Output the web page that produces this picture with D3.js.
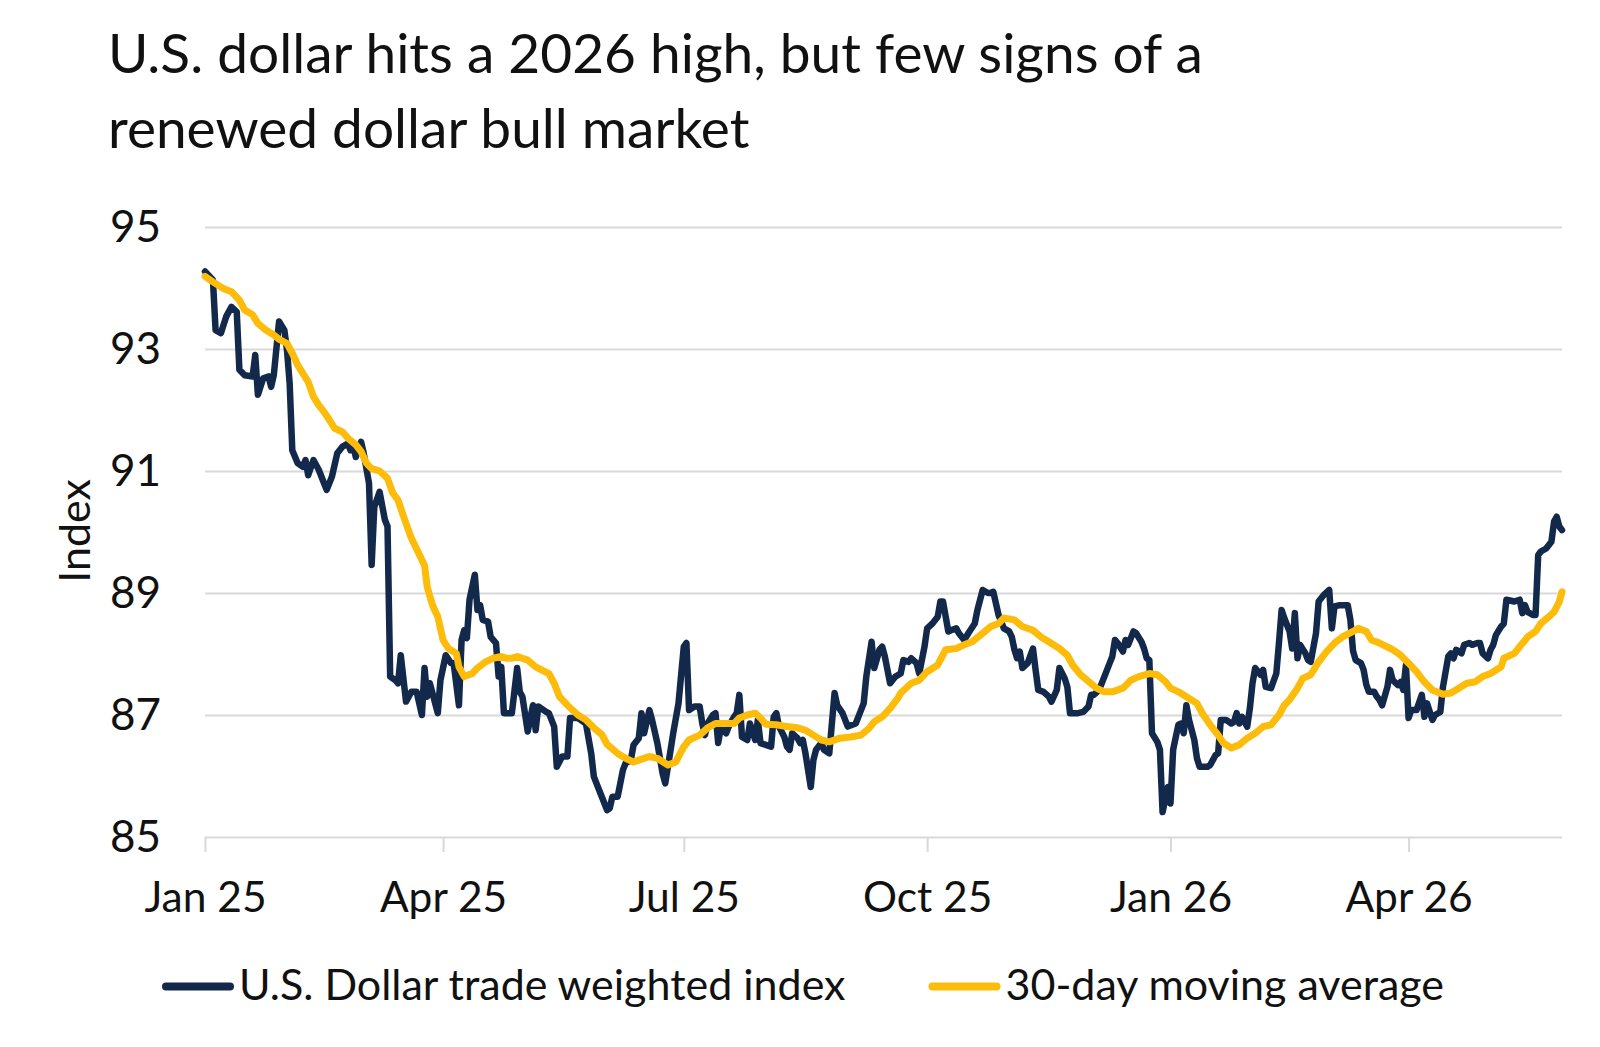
<!DOCTYPE html>
<html>
<head>
<meta charset="utf-8">
<script src="https://cdn.jsdelivr.net/npm/d3@7"></script>
<style>
  html, body { margin: 0; padding: 0; background: #ffffff; }
  svg { display: block; }
</style>
</head>
<body>
<svg id="chart" width="1600" height="1047"></svg>
<script>
// ---------------- DATA ----------------
const titleLines = ["U.S. dollar hits a 2026 high, but few signs of a", "renewed dollar bull market"];
const yAxisTitle = "Index";
const yTicks = [85, 87, 89, 91, 93, 95];
const xTickDates = ["2025-01-01", "2025-04-01", "2025-07-01", "2025-10-01", "2026-01-01", "2026-04-01"];
const xTickLabels = ["Jan 25", "Apr 25", "Jul 25", "Oct 25", "Jan 26", "Apr 26"];
const xDomain = ["2025-01-01", "2026-05-29"];
const seriesNames = ["U.S. Dollar trade weighted index", "30-day moving average"];
const seriesColors = ["#13294b", "#fdbb0a"];

// U.S. Dollar trade weighted index (date, value)
const dollarIndex = [
["2025-01-01",94.27],["2025-01-04",94.13],["2025-01-05",93.31],["2025-01-07",93.26],["2025-01-09",93.53],
["2025-01-11",93.69],["2025-01-13",93.61],["2025-01-14",92.66],["2025-01-16",92.57],["2025-01-19",92.55],
["2025-01-20",92.90],["2025-01-21",92.25],["2025-01-23",92.52],["2025-01-25",92.55],["2025-01-26",92.38],
["2025-01-27",92.57],["2025-01-29",93.45],["2025-01-31",93.31],["2025-02-01",92.98],["2025-02-02",92.44],
["2025-02-03",91.34],["2025-02-05",91.13],["2025-02-07",91.07],["2025-02-08",91.18],["2025-02-09",90.93],
["2025-02-11",91.18],["2025-02-13",91.02],["2025-02-15",90.80],["2025-02-16",90.69],["2025-02-18",90.91],
["2025-02-20",91.29],["2025-02-22",91.40],["2025-02-24",91.45],["2025-02-25",91.34],["2025-02-26",91.43],
["2025-02-27",91.23],["2025-03-01",91.48],["2025-03-02",91.29],["2025-03-04",90.80],["2025-03-05",89.46],
["2025-03-06",90.41],["2025-03-08",90.66],["2025-03-10",90.20],["2025-03-11",90.09],["2025-03-12",87.63],
["2025-03-14",87.57],["2025-03-15",87.52],["2025-03-16",87.98],["2025-03-18",87.22],["2025-03-20",87.38],
["2025-03-22",87.38],["2025-03-24",87.00],["2025-03-25",87.77],["2025-03-26",87.30],["2025-03-27",87.52],
["2025-03-30",87.03],["2025-03-31",87.57],["2025-04-02",87.98],["2025-04-04",87.85],["2025-04-05",87.85],
["2025-04-07",87.16],["2025-04-08",88.23],["2025-04-09",88.39],["2025-04-10",88.26],["2025-04-11",88.89],
["2025-04-13",89.30],["2025-04-14",88.72],["2025-04-15",88.80],["2025-04-16",88.56],["2025-04-18",88.53],
["2025-04-19",88.28],["2025-04-21",88.18],["2025-04-22",87.63],["2025-04-23",87.79],["2025-04-24",87.03],
["2025-04-26",87.03],["2025-04-27",87.03],["2025-04-29",87.77],["2025-04-30",87.38],["2025-05-01",87.30],
["2025-05-03",86.73],["2025-05-05",87.16],["2025-05-06",86.75],["2025-05-07",87.14],["2025-05-10",87.05],
["2025-05-11",87.03],["2025-05-13",86.81],["2025-05-14",86.15],["2025-05-16",86.32],["2025-05-18",86.32],
["2025-05-19",86.95],["2025-05-22",86.95],["2025-05-25",86.86],["2025-05-27",86.37],["2025-05-28",85.99],
["2025-05-29",85.88],["2025-05-31",85.66],["2025-06-02",85.44],["2025-06-03",85.47],["2025-06-04",85.66],
["2025-06-06",85.66],["2025-06-08",86.10],["2025-06-09",86.21],["2025-06-11",86.26],["2025-06-12",86.51],
["2025-06-14",86.62],["2025-06-15",87.03],["2025-06-16",86.70],["2025-06-18",87.08],["2025-06-19",86.92],
["2025-06-21",86.54],["2025-06-23",86.04],["2025-06-24",85.88],["2025-06-25",86.15],["2025-06-27",86.70],
["2025-06-29",87.19],["2025-07-01",88.12],["2025-07-02",88.18],["2025-07-03",87.08],["2025-07-05",87.14],
["2025-07-07",87.14],["2025-07-08",86.86],["2025-07-09",86.67],["2025-07-10",86.86],["2025-07-12",87.00],
["2025-07-13",87.03],["2025-07-14",86.54],["2025-07-15",86.79],["2025-07-17",86.70],["2025-07-18",86.81],
["2025-07-20",86.97],["2025-07-21",87.03],["2025-07-22",87.33],["2025-07-23",86.64],["2025-07-25",86.59],
["2025-07-26",86.86],["2025-07-28",86.59],["2025-07-29",86.92],["2025-07-30",86.54],["2025-08-01",86.51],
["2025-08-03",86.48],["2025-08-04",86.97],["2025-08-05",87.03],["2025-08-06",86.81],["2025-08-08",86.64],
["2025-08-09",86.48],["2025-08-10",86.43],["2025-08-11",86.70],["2025-08-13",86.62],["2025-08-14",86.54],
["2025-08-15",86.59],["2025-08-16",86.37],["2025-08-18",85.82],["2025-08-19",86.26],["2025-08-20",86.43],
["2025-08-22",86.54],["2025-08-23",86.43],["2025-08-25",86.37],["2025-08-27",87.36],["2025-08-28",87.16],
["2025-08-30",87.03],["2025-09-01",86.81],["2025-09-04",86.86],["2025-09-05",86.97],["2025-09-07",87.19],
["2025-09-08",87.63],["2025-09-10",88.20],["2025-09-11",87.77],["2025-09-13",88.07],["2025-09-14",88.12],
["2025-09-15",87.96],["2025-09-17",87.52],["2025-09-19",87.63],["2025-09-21",87.68],["2025-09-22",87.90],
["2025-09-24",87.87],["2025-09-25",87.93],["2025-09-27",87.85],["2025-09-28",87.68],["2025-09-30",88.12],
["2025-10-01",88.42],["2025-10-03",88.50],["2025-10-05",88.61],["2025-10-06",88.86],["2025-10-07",88.86],
["2025-10-09",88.37],["2025-10-10",88.39],["2025-10-12",88.42],["2025-10-13",88.34],["2025-10-15",88.23],
["2025-10-17",88.37],["2025-10-19",88.50],["2025-10-20",88.72],["2025-10-22",89.05],["2025-10-24",89.00],
["2025-10-25",89.00],["2025-10-26",89.02],["2025-10-28",88.64],["2025-10-30",88.42],["2025-11-01",88.37],
["2025-11-02",88.28],["2025-11-03",88.07],["2025-11-04",87.93],["2025-11-05",88.04],["2025-11-06",87.77],
["2025-11-08",87.85],["2025-11-10",88.09],["2025-11-11",87.74],["2025-11-12",87.41],["2025-11-14",87.38],
["2025-11-16",87.30],["2025-11-17",87.22],["2025-11-19",87.41],["2025-11-20",87.77],["2025-11-22",87.60],
["2025-11-23",87.46],["2025-11-24",87.03],["2025-11-27",87.03],["2025-11-29",87.05],["2025-12-01",87.14],
["2025-12-02",87.33],["2025-12-03",87.33],["2025-12-05",87.41],["2025-12-07",87.63],["2025-12-09",87.85],
["2025-12-10",87.96],["2025-12-11",88.23],["2025-12-12",88.18],["2025-12-14",88.04],["2025-12-15",88.23],
["2025-12-16",88.15],["2025-12-18",88.37],["2025-12-19",88.34],["2025-12-21",88.20],["2025-12-22",88.09],
["2025-12-23",87.93],["2025-12-24",87.90],["2025-12-25",86.70],["2025-12-27",86.56],["2025-12-28",86.43],
["2025-12-29",85.41],["2025-12-31",85.82],["2026-01-01",85.55],["2026-01-02",86.43],["2026-01-03",86.64],
["2026-01-04",86.84],["2026-01-05",86.86],["2026-01-06",86.70],["2026-01-07",87.16],["2026-01-08",86.92],
["2026-01-10",86.59],["2026-01-11",86.29],["2026-01-12",86.15],["2026-01-15",86.15],["2026-01-16",86.18],
["2026-01-17",86.26],["2026-01-18",86.34],["2026-01-19",86.37],["2026-01-20",86.92],["2026-01-22",86.92],
["2026-01-24",86.86],["2026-01-25",86.89],["2026-01-26",87.03],["2026-01-27",86.86],["2026-01-28",86.97],
["2026-01-30",86.81],["2026-01-31",87.11],["2026-02-01",87.52],["2026-02-02",87.77],["2026-02-04",87.66],
["2026-02-05",87.74],["2026-02-06",87.46],["2026-02-08",87.44],["2026-02-10",87.68],["2026-02-11",88.18],
["2026-02-12",88.72],["2026-02-13",88.59],["2026-02-15",88.37],["2026-02-16",88.09],["2026-02-17",88.67],
["2026-02-18",87.93],["2026-02-19",88.15],["2026-02-21",88.01],["2026-02-22",87.90],["2026-02-23",87.87],
["2026-02-25",88.34],["2026-02-26",88.86],["2026-02-28",88.97],["2026-03-02",89.05],["2026-03-03",88.42],
["2026-03-04",88.78],["2026-03-06",88.80],["2026-03-09",88.80],["2026-03-10",88.56],["2026-03-11",88.05],
["2026-03-12",87.90],["2026-03-14",87.85],["2026-03-15",87.74],["2026-03-16",87.50],["2026-03-17",87.38],
["2026-03-19",87.38],["2026-03-20",87.30],["2026-03-21",87.25],["2026-03-22",87.16],["2026-03-24",87.46],
["2026-03-25",87.74],["2026-03-26",87.57],["2026-03-28",87.49],["2026-03-29",87.54],["2026-03-30",87.41],
["2026-03-31",87.82],["2026-04-01",86.95],["2026-04-02",87.08],["2026-04-04",87.08],["2026-04-06",87.33],
["2026-04-07",86.97],["2026-04-08",87.19],["2026-04-10",86.92],["2026-04-11",87.00],["2026-04-13",87.05],
["2026-04-14",87.46],["2026-04-16",87.96],["2026-04-17",88.01],["2026-04-18",87.93],["2026-04-19",88.07],
["2026-04-21",88.01],["2026-04-22",88.15],["2026-04-24",88.18],["2026-04-25",88.15],["2026-04-27",88.18],
["2026-04-28",88.18],["2026-04-29",88.01],["2026-05-01",87.93],["2026-05-02",88.07],["2026-05-03",88.15],
["2026-05-04",88.31],["2026-05-06",88.45],["2026-05-07",88.50],["2026-05-08",88.89],["2026-05-11",88.86],
["2026-05-13",88.89],["2026-05-14",88.67],["2026-05-15",88.80],["2026-05-16",88.69],["2026-05-18",88.64],
["2026-05-19",88.64],["2026-05-20",89.62],["2026-05-21",89.68],["2026-05-23",89.73],["2026-05-25",89.84],
["2026-05-26",90.17],["2026-05-27",90.25],["2026-05-28",90.09],["2026-05-29",90.03]
];

// 30-day moving average (date, value)
const movingAverage = [
["2025-01-01",94.19],["2025-01-04",94.10],["2025-01-08",93.99],["2025-01-11",93.94],["2025-01-14",93.80],
["2025-01-16",93.64],["2025-01-19",93.56],["2025-01-21",93.42],["2025-01-24",93.31],["2025-01-27",93.23],
["2025-01-29",93.16],["2025-02-01",93.09],["2025-02-03",92.93],["2025-02-05",92.74],["2025-02-07",92.60],
["2025-02-09",92.46],["2025-02-11",92.22],["2025-02-13",92.08],["2025-02-15",91.97],["2025-02-17",91.84],
["2025-02-19",91.70],["2025-02-22",91.64],["2025-02-24",91.54],["2025-02-27",91.43],["2025-03-01",91.32],
["2025-03-03",91.13],["2025-03-05",91.04],["2025-03-08",91.00],["2025-03-11",90.88],["2025-03-13",90.64],
["2025-03-15",90.52],["2025-03-17",90.26],["2025-03-20",89.90],["2025-03-22",89.72],["2025-03-25",89.45],
["2025-03-26",89.10],["2025-03-28",88.80],["2025-03-30",88.61],["2025-04-01",88.23],["2025-04-03",88.09],
["2025-04-06",88.01],["2025-04-07",87.79],["2025-04-09",87.63],["2025-04-12",87.68],["2025-04-14",87.77],
["2025-04-17",87.87],["2025-04-20",87.93],["2025-04-23",87.96],["2025-04-25",87.93],["2025-04-27",87.93],
["2025-04-29",87.96],["2025-05-03",87.90],["2025-05-06",87.79],["2025-05-11",87.68],["2025-05-13",87.52],
["2025-05-15",87.30],["2025-05-18",87.16],["2025-05-22",87.00],["2025-05-25",86.92],["2025-05-28",86.79],
["2025-05-31",86.68],["2025-06-02",86.52],["2025-06-06",86.37],["2025-06-09",86.29],["2025-06-12",86.23],
["2025-06-14",86.26],["2025-06-18",86.32],["2025-06-21",86.29],["2025-06-25",86.18],["2025-06-28",86.23],
["2025-07-01",86.48],["2025-07-03",86.59],["2025-07-07",86.67],["2025-07-10",86.79],["2025-07-13",86.86],
["2025-07-17",86.86],["2025-07-20",86.86],["2025-07-22",86.95],["2025-07-25",87.00],["2025-07-28",87.03],
["2025-07-30",86.95],["2025-08-01",86.85],["2025-08-05",86.84],["2025-08-09",86.81],["2025-08-13",86.79],
["2025-08-16",86.75],["2025-08-19",86.67],["2025-08-22",86.59],["2025-08-25",86.56],["2025-08-29",86.62],
["2025-09-02",86.64],["2025-09-06",86.67],["2025-09-09",86.78],["2025-09-11",86.89],["2025-09-14",86.97],
["2025-09-17",87.11],["2025-09-20",87.28],["2025-09-21",87.36],["2025-09-25",87.52],["2025-09-28",87.57],
["2025-10-01",87.71],["2025-10-05",87.82],["2025-10-08",88.07],["2025-10-12",88.09],["2025-10-15",88.15],
["2025-10-18",88.20],["2025-10-22",88.34],["2025-10-25",88.45],["2025-10-28",88.50],["2025-10-30",88.59],
["2025-11-03",88.56],["2025-11-06",88.45],["2025-11-10",88.39],["2025-11-13",88.28],["2025-11-16",88.20],
["2025-11-20",88.09],["2025-11-23",87.98],["2025-11-25",87.82],["2025-11-28",87.66],["2025-12-01",87.55],
["2025-12-04",87.44],["2025-12-07",87.38],["2025-12-10",87.38],["2025-12-14",87.44],["2025-12-17",87.57],
["2025-12-20",87.63],["2025-12-24",87.68],["2025-12-27",87.66],["2025-12-30",87.55],["2026-01-01",87.44],
["2026-01-04",87.38],["2026-01-07",87.30],["2026-01-11",87.19],["2026-01-13",87.03],["2026-01-16",86.84],
["2026-01-19",86.67],["2026-01-21",86.54],["2026-01-24",86.46],["2026-01-27",86.51],["2026-01-30",86.62],
["2026-02-02",86.70],["2026-02-05",86.81],["2026-02-08",86.84],["2026-02-11",87.00],["2026-02-13",87.16],
["2026-02-15",87.25],["2026-02-18",87.44],["2026-02-20",87.60],["2026-02-23",87.66],["2026-02-26",87.87],
["2026-03-01",88.04],["2026-03-04",88.18],["2026-03-07",88.28],["2026-03-11",88.37],["2026-03-13",88.42],
["2026-03-16",88.37],["2026-03-18",88.23],["2026-03-21",88.18],["2026-03-26",88.07],["2026-03-29",87.98],
["2026-04-01",87.85],["2026-04-04",87.71],["2026-04-07",87.54],["2026-04-10",87.41],["2026-04-14",87.34],
["2026-04-17",87.36],["2026-04-20",87.44],["2026-04-23",87.52],["2026-04-26",87.54],["2026-04-29",87.63],
["2026-05-02",87.68],["2026-05-06",87.79],["2026-05-07",87.93],["2026-05-11",88.01],["2026-05-13",88.12],
["2026-05-16",88.28],["2026-05-19",88.37],["2026-05-21",88.50],["2026-05-24",88.61],["2026-05-26",88.69],
["2026-05-28",88.86],["2026-05-29",89.02]
];

// ---------------- CHART ----------------
const FONT = "Lato, 'Noto Sans', sans-serif";
const parse = d3.utcParse("%Y-%m-%d");
const svg = d3.select("#chart");
svg.append("rect").attr("width", 1600).attr("height", 1047).attr("fill", "#ffffff");

const plot = { left: 205, right: 1562, top: 227, bottom: 837 };

const x = d3.scaleUtc().domain(xDomain.map(parse)).range([plot.left, plot.right]);
const y = d3.scaleLinear().domain([85, 95]).range([plot.bottom, plot.top]);

// Title
const title = svg.append("g").attr("font-family", FONT).attr("font-size", 55).attr("fill", "#111111");
titleLines.forEach((t, i) => {
  title.append("text").attr("x", 108).attr("y", 73 + i * 75).text(t);
});

// Y axis with gridlines
const yAxis = d3.axisLeft(y).tickValues(yTicks).tickFormat(d3.format("d"))
  .tickSize(-(plot.right - plot.left)).tickPadding(44);
const gy = svg.append("g").attr("transform", `translate(${plot.left},0)`).call(yAxis);
gy.select(".domain").remove();
gy.selectAll(".tick line").attr("stroke", "#d9d9d9").attr("stroke-width", 2);
gy.selectAll(".tick text").attr("font-family", FONT).attr("font-size", 44).attr("fill", "#111111");

// X axis
const xAxis = d3.axisBottom(x).tickValues(xTickDates.map(parse))
  .tickFormat((d, i) => xTickLabels[i]).tickSize(15).tickPadding(30);
const gx = svg.append("g").attr("transform", `translate(0,${plot.bottom})`).call(xAxis);
gx.select(".domain").remove();
gx.selectAll(".tick line").attr("stroke", "#d9d9d9").attr("stroke-width", 2);
gx.selectAll(".tick text").attr("font-family", FONT).attr("font-size", 42.5).attr("fill", "#111111");

// Y axis title
svg.append("text")
  .attr("transform", `translate(90,531) rotate(-90)`)
  .attr("text-anchor", "middle")
  .attr("font-family", FONT).attr("font-size", 43).attr("fill", "#111111")
  .text(yAxisTitle);

// Lines
const line = d3.line().x(d => x(parse(d[0]))).y(d => y(d[1])).curve(d3.curveLinear);
svg.append("path").datum(dollarIndex)
  .attr("fill", "none").attr("stroke", seriesColors[0]).attr("stroke-width", 6.5)
  .attr("stroke-linejoin", "round").attr("stroke-linecap", "round").attr("d", line);
svg.append("path").datum(movingAverage)
  .attr("fill", "none").attr("stroke", seriesColors[1]).attr("stroke-width", 7)
  .attr("stroke-linejoin", "round").attr("stroke-linecap", "round").attr("d", line);

// Legend
const legend = svg.append("g").attr("font-family", FONT).attr("font-size", 43).attr("fill", "#111111");
let lx = 162;
seriesNames.forEach((name, i) => {
  legend.append("line").attr("x1", lx + 4).attr("x2", lx + 68).attr("y1", 986.5).attr("y2", 986.5)
    .attr("stroke", seriesColors[i]).attr("stroke-width", 8).attr("stroke-linecap", "round");
  const t = legend.append("text").attr("x", lx + 77).attr("y", 1000).text(name);
  lx = lx + 77 + t.node().getComputedTextLength() + 83;
});
</script>
</body>
</html>
